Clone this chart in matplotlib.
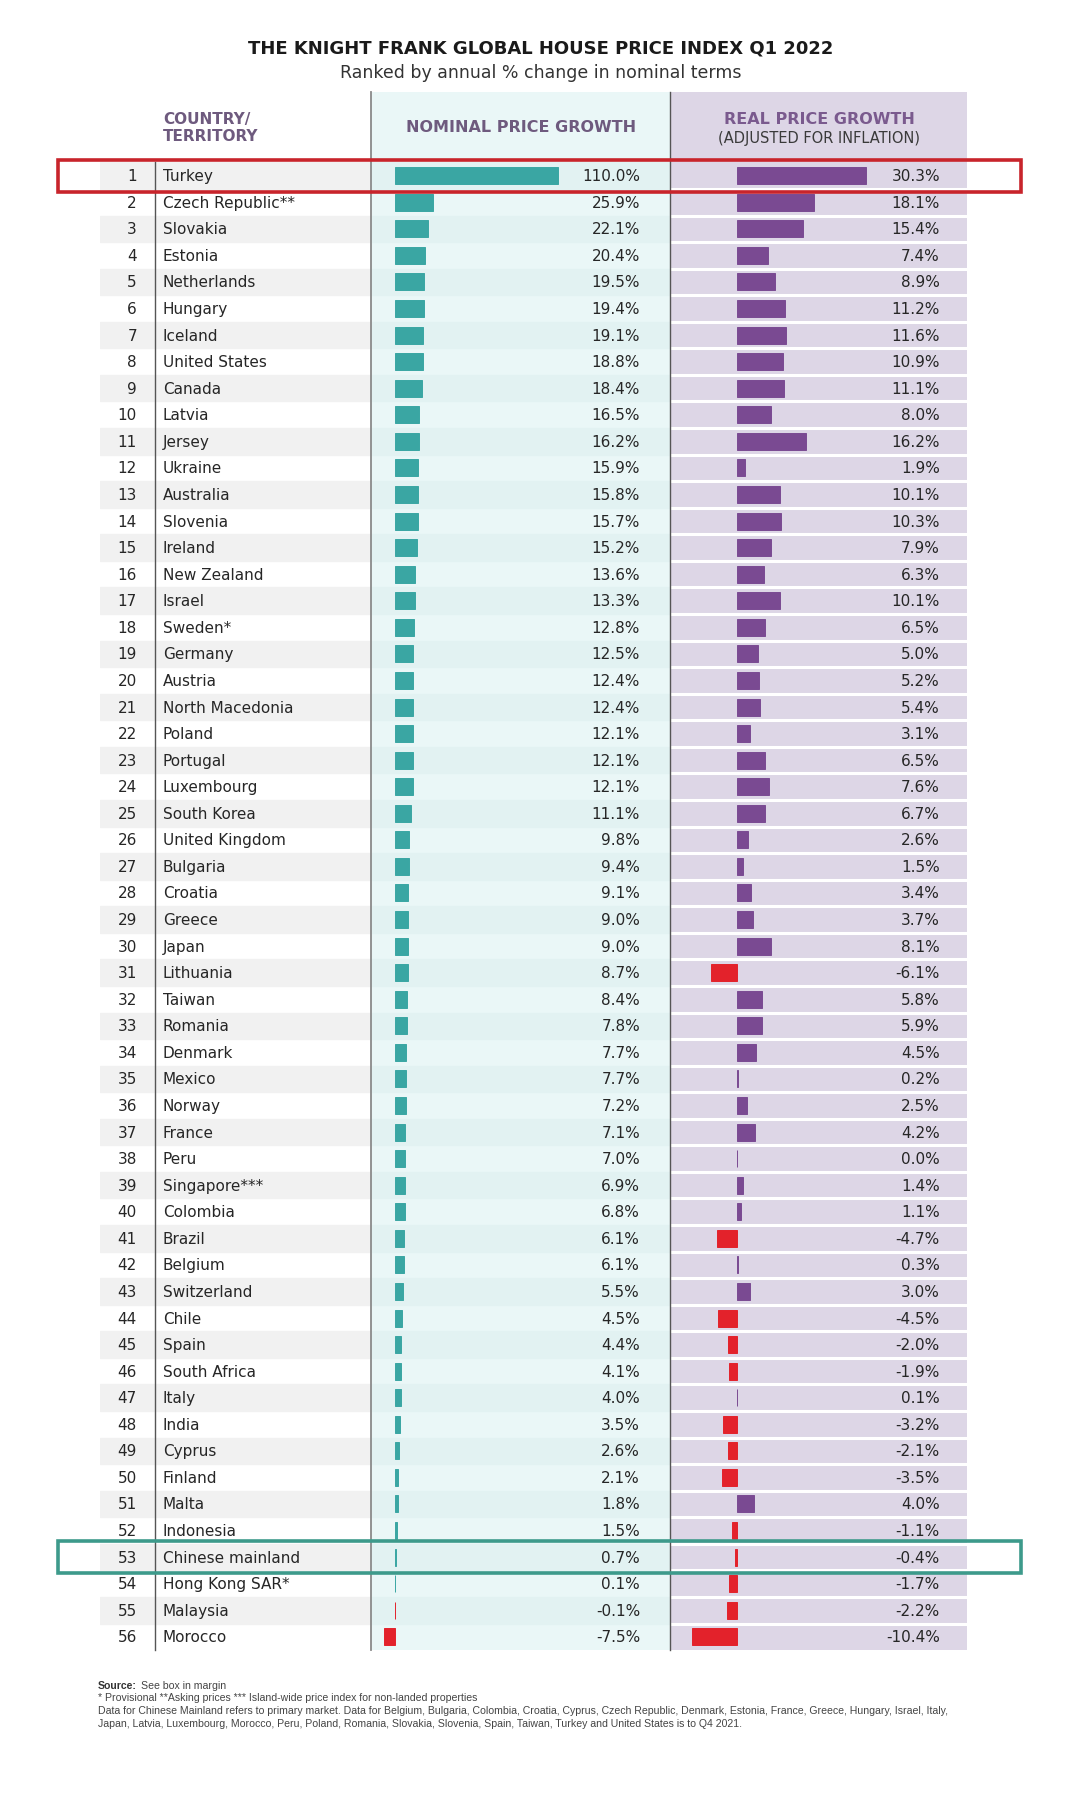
import matplotlib
matplotlib.use("Agg")
import matplotlib.pyplot as plt
import matplotlib.transforms as mtransforms
from matplotlib.patches import Rectangle

countries = ["Turkey", "Czech Republic**", "Slovakia", "Estonia", "Netherlands", "Hungary",
             "Iceland", "United States", "Canada", "Latvia", "Jersey", "Ukraine", "Australia",
             "Slovenia", "Ireland", "New Zealand", "Israel", "Sweden*", "Germany", "Austria",
             "North Macedonia", "Poland", "Portugal", "Luxembourg", "South Korea",
             "United Kingdom", "Bulgaria", "Croatia", "Greece", "Japan", "Lithuania", "Taiwan",
             "Romania", "Denmark", "Mexico", "Norway", "France", "Peru", "Singapore***",
             "Colombia", "Brazil", "Belgium", "Switzerland", "Chile", "Spain", "South Africa",
             "Italy", "India", "Cyprus", "Finland", "Malta", "Indonesia", "Chinese mainland",
             "Hong Kong SAR*", "Malaysia", "Morocco"]
nominal = [110.0, 25.9, 22.1, 20.4, 19.5, 19.4, 19.1, 18.8, 18.4, 16.5, 16.2, 15.9, 15.8,
           15.7, 15.2, 13.6, 13.3, 12.8, 12.5, 12.4, 12.4, 12.1, 12.1, 12.1, 11.1, 9.8, 9.4,
           9.1, 9.0, 9.0, 8.7, 8.4, 7.8, 7.7, 7.7, 7.2, 7.1, 7.0, 6.9, 6.8, 6.1, 6.1, 5.5,
           4.5, 4.4, 4.1, 4.0, 3.5, 2.6, 2.1, 1.8, 1.5, 0.7, 0.1, -0.1, -7.5]
real = [30.3, 18.1, 15.4, 7.4, 8.9, 11.2, 11.6, 10.9, 11.1, 8.0, 16.2, 1.9, 10.1, 10.3, 7.9,
        6.3, 10.1, 6.5, 5.0, 5.2, 5.4, 3.1, 6.5, 7.6, 6.7, 2.6, 1.5, 3.4, 3.7, 8.1, -6.1,
        5.8, 5.9, 4.5, 0.2, 2.5, 4.2, 0.0, 1.4, 1.1, -4.7, 0.3, 3.0, -4.5, -2.0, -1.9, 0.1,
        -3.2, -2.1, -3.5, 4.0, -1.1, -0.4, -1.7, -2.2, -10.4]
ranks = list(range(1, len(countries) + 1))
highlight_red = "Turkey"
highlight_teal = "Chinese mainland"

W, H = 1080, 1799
fig = plt.figure(figsize=(W / 100, H / 100), dpi=100)
fig.patch.set_facecolor("white")

def fx(x):
    return x / W

def fy(y):
    return 1 - y / H

def add_axes_px(x0, y0, x1, y1):
    return fig.add_axes([fx(x0), fy(y1), fx(x1) - fx(x0), fy(y0) - fy(y1)])

TEAL = "#3aa6a3"
PURPLE = "#7a4a92"
RED = "#e3222b"
NOM_BG = "#eaf7f7"
NOM_STRIPE = "#e2f2f2"
REAL_BG = "#ddd6e6"
LEFT_STRIPE = "#f1f1f1"
TXT = "#262626"
HDR = "#6e5a7e"

FONT = ["DejaVu Sans"]
NARROW = ["Liberation Sans Narrow", "Liberation Sans", "DejaVu Sans"]
FS = 11

row_top, row_bot = 163.4, 1651.1
head_top = 93
n = len(countries)

# header backgrounds
fig.patches.append(Rectangle((fx(371), fy(row_top)), fx(670) - fx(371), fy(head_top) - fy(row_top),
                             transform=fig.transFigure, facecolor=NOM_BG, edgecolor="none", zorder=0))
fig.patches.append(Rectangle((fx(670), fy(row_top)), fx(967) - fx(670), fy(head_top) - fy(row_top),
                             transform=fig.transFigure, facecolor=REAL_BG, edgecolor="none", zorder=0))

ax_left = add_axes_px(100, row_top, 371, row_bot)
ax_nom = add_axes_px(371, row_top, 670, row_bot)
ax_real = add_axes_px(670, row_top, 967, row_bot)

for ax in (ax_left, ax_nom, ax_real):
    ax.set_ylim(n - 0.5, -0.5)
    ax.axis("off")

ax_left.set_xlim(0, 1)
ax_nom.set_xlim(-16.2, 185.9)
ax_real.set_xlim(-15.6, 53.8)

ax_nom.axvspan(-16.2, 185.9, color=NOM_BG, zorder=0)
ax_real.axvspan(-15.6, 53.8, color=REAL_BG, zorder=0)

for i in range(n):
    if i % 2 == 0:
        ax_left.axhspan(i - 0.5, i + 0.5, color=LEFT_STRIPE, zorder=0.5)
        ax_nom.axhspan(i - 0.5, i + 0.5, color=NOM_STRIPE, zorder=0.5)
    if i > 0:
        ax_real.axhline(i - 0.5, color="white", lw=2.2, zorder=0.6)

ypos = list(range(n))
nom_colors = [TEAL if v >= 0 else RED for v in nominal]
real_colors = [PURPLE if v >= 0 else RED for v in real]
ax_nom.barh(ypos, nominal, height=0.64, color=nom_colors, edgecolor=nom_colors, linewidth=0.7, zorder=2)
ax_real.barh(ypos, real, height=0.64, color=real_colors, edgecolor=real_colors, linewidth=0.7, zorder=2)

t_left = mtransforms.blended_transform_factory(fig.transFigure, ax_left.transData)
t_nom = mtransforms.blended_transform_factory(ax_nom.transAxes, ax_nom.transData)
t_real = mtransforms.blended_transform_factory(ax_real.transAxes, ax_real.transData)

for i in range(n):
    ax_left.text(fx(137), i, str(ranks[i]), transform=t_left, ha="right", va="center",
                 fontsize=FS, color=TXT, family=FONT)
    ax_left.text(fx(163), i, countries[i], transform=t_left, ha="left", va="center",
                 fontsize=FS, color=TXT, family=FONT)
    ax_nom.text(0.9, i, f"{nominal[i]:.1f}%", transform=t_nom, ha="right", va="center",
                fontsize=FS, color=TXT, family=FONT, zorder=3)
    ax_real.text(0.909, i, f"{real[i]:.1f}%", transform=t_real, ha="right", va="center",
                 fontsize=FS, color=TXT, family=FONT, zorder=3)

# vertical separators
fig.add_artist(plt.Line2D([fx(155), fx(155)], [fy(row_top), fy(row_bot)], color="#555555", lw=1.0))
fig.add_artist(plt.Line2D([fx(371), fx(371)], [fy(head_top), fy(row_bot)], color="#8a8a8a", lw=1.3))
fig.add_artist(plt.Line2D([fx(670), fx(670)], [fy(head_top), fy(row_bot)], color="#555555", lw=1.0))

# highlight boxes
t_box = mtransforms.blended_transform_factory(fig.transFigure, ax_nom.transData)
for name, col in ((highlight_red, "#c8242b"), (highlight_teal, "#3d9a8b")):
    idx = countries.index(name)
    fig.add_artist(Rectangle((fx(58), idx - 0.6), fx(1021) - fx(58), 1.2, transform=t_box,
                             fill=False, edgecolor=col, lw=2.6, zorder=10))

# headers
fig.text(fx(541), fy(48), "THE KNIGHT FRANK GLOBAL HOUSE PRICE INDEX Q1 2022", ha="center", va="center",
         fontsize=13, fontweight="bold", color="#1a1a1a", family=FONT)
fig.text(fx(541), fy(73), "Ranked by annual % change in nominal terms", ha="center", va="center",
         fontsize=12.5, color="#333333", family=FONT)
fig.text(fx(163), fy(128), "COUNTRY/\nTERRITORY", ha="left", va="center", fontsize=11,
         fontweight="bold", color=HDR, family=FONT, linespacing=1.1)
fig.text(fx(521), fy(128), "NOMINAL PRICE GROWTH", ha="center", va="center", fontsize=11.5,
         fontweight="bold", color=HDR, family=FONT)
fig.text(fx(819), fy(119), "REAL PRICE GROWTH", ha="center", va="center", fontsize=11.5,
         fontweight="bold", color="#7a5a8e", family=FONT)
fig.text(fx(819), fy(138), "(ADJUSTED FOR INFLATION)", ha="center", va="center", fontsize=10.5,
         color="#3a3a3a", family=FONT)

# footnotes
src = fig.text(fx(98), fy(1686), "Source:", ha="left", va="center", fontsize=7.6, fontweight="bold",
               color="#333333", family=NARROW)
fig.text(fx(98), fy(1686), "", fontsize=1)
ann = plt.annotate("See box in margin", xy=(1, 0.5), xycoords=src, xytext=(3, 0),
                   textcoords="offset points", ha="left", va="center", fontsize=7.6,
                   color="#444444", family=NARROW, annotation_clip=False)
foot = ["* Provisional **Asking prices *** Island-wide price index for non-landed properties",
        "Data for Chinese Mainland refers to primary market. Data for Belgium, Bulgaria, Colombia, Croatia, Cyprus, Czech Republic, Denmark, Estonia, France, Greece, Hungary, Israel, Italy,",
        "Japan, Latvia, Luxembourg, Morocco, Peru, Poland, Romania, Slovakia, Slovenia, Spain, Taiwan, Turkey and United States is to Q4 2021."]
for k, line in enumerate(foot):
    fig.text(fx(98), fy(1698 + k * 12.8), line, ha="left", va="center", fontsize=7.6,
             color="#444444", family=NARROW)

fig.savefig("out.png", dpi=100, facecolor="white")
